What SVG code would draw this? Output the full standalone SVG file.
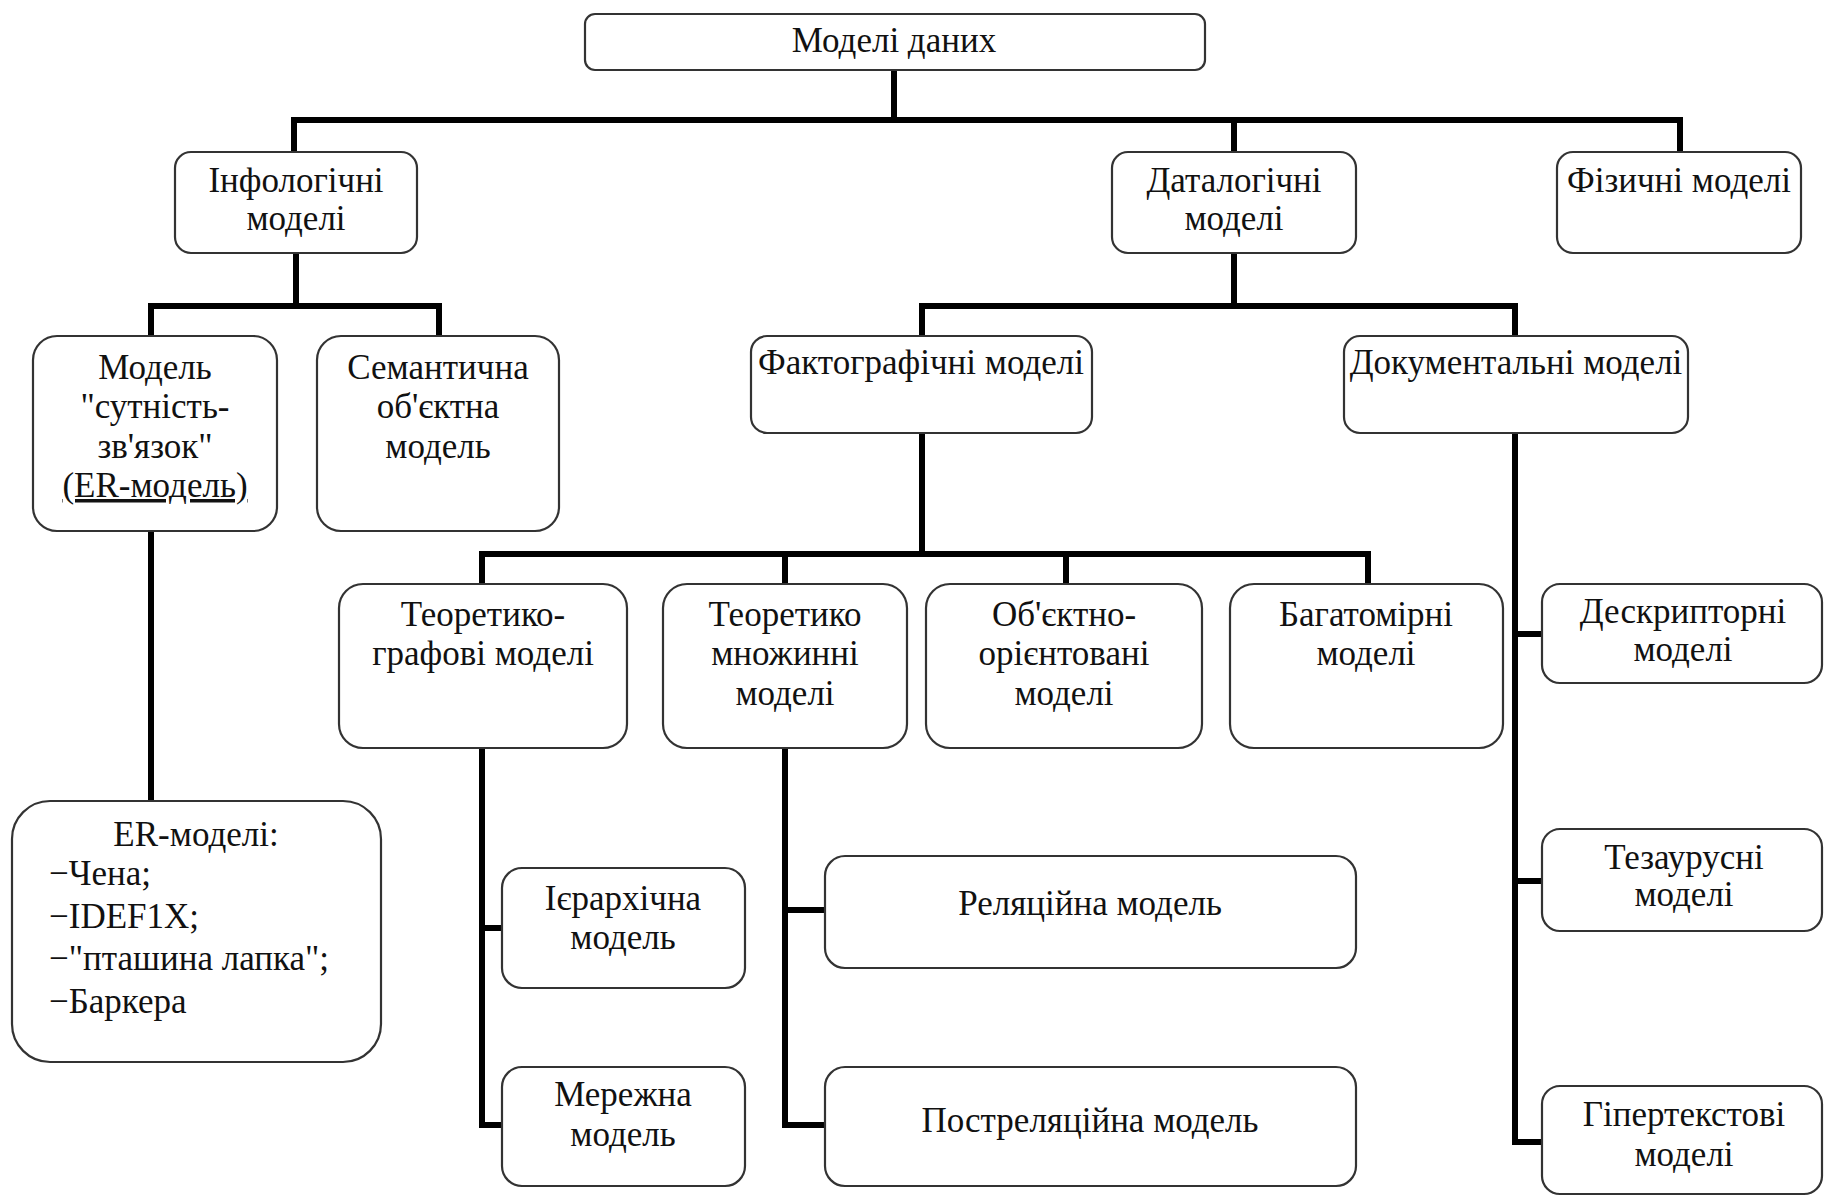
<svg xmlns="http://www.w3.org/2000/svg" width="1825" height="1196" viewBox="0 0 1825 1196">
<style>
.box{fill:#fff;stroke:#333;stroke-width:2.2}
.t{font-family:"Liberation Serif","Times New Roman",serif;font-size:35px;fill:#111;text-anchor:middle}
.l{text-anchor:start}
.conn{stroke:#000;stroke-width:6;fill:none;stroke-linecap:square;stroke-linejoin:miter}
</style>
<rect width="1825" height="1196" fill="#fff"/>
<g id="connectors">
<path class="conn" d="M894,70 V120"/>
<path class="conn" d="M294,152 V120 H1680 V152"/>
<path class="conn" d="M1234,120 V152"/>
<path class="conn" d="M296,253 V306"/>
<path class="conn" d="M151,336 V306 H439 V336"/>
<path class="conn" d="M1234,253 V306"/>
<path class="conn" d="M922,336 V306 H1515 V336"/>
<path class="conn" d="M922,433 V554"/>
<path class="conn" d="M482,584 V554 H1368 V584"/>
<path class="conn" d="M785,554 V584"/>
<path class="conn" d="M1066,554 V584"/>
<path class="conn" d="M151,531 V801"/>
<path class="conn" d="M482,748 V1125 H502"/>
<path class="conn" d="M482,928 H502"/>
<path class="conn" d="M785,748 V1125 H825"/>
<path class="conn" d="M785,910 H825"/>
<path class="conn" d="M1515,433 V1142 H1542"/>
<path class="conn" d="M1515,634 H1542"/>
<path class="conn" d="M1515,881 H1542"/>
</g>
<g id="n-root"><rect class="box" x="585" y="14" width="620" height="56" rx="10"/><text class="t" x="894" y="52">Моделі даних</text></g>
<g id="n-info"><rect class="box" x="175" y="152" width="242" height="101" rx="16"/><text class="t" x="296" y="192">Інфологічні</text><text class="t" x="296" y="230">моделі</text></g>
<g id="n-data"><rect class="box" x="1112" y="152" width="244" height="101" rx="16"/><text class="t" x="1234" y="192">Даталогічні</text><text class="t" x="1234" y="230">моделі</text></g>
<g id="n-phys"><rect class="box" x="1557" y="152" width="244" height="101" rx="16"/><text class="t" x="1679" y="192">Фізичні моделі</text></g>
<g id="n-er"><rect class="box" x="33" y="336" width="244" height="195" rx="24"/><text class="t" x="155" y="379">Модель</text><text class="t" x="155" y="418">"сутність-</text><text class="t" x="155" y="458">зв'язок"</text><text class="t" x="155" y="497" text-decoration="underline">(ER-модель)</text></g>
<g id="n-sem"><rect class="box" x="317" y="336" width="242" height="195" rx="24"/><text class="t" x="438" y="379">Семантична</text><text class="t" x="438" y="418">об'єктна</text><text class="t" x="438" y="458">модель</text></g>
<g id="n-fact"><rect class="box" x="751" y="336" width="341" height="97" rx="16"/><text class="t" x="921" y="374">Фактографічні моделі</text></g>
<g id="n-doc"><rect class="box" x="1344" y="336" width="344" height="97" rx="16"/><text class="t" x="1516" y="374">Документальні моделі</text></g>
<g id="n-tg"><rect class="box" x="339" y="584" width="288" height="164" rx="24"/><text class="t" x="483" y="626">Теоретико-</text><text class="t" x="483" y="665">графові моделі</text></g>
<g id="n-tm"><rect class="box" x="663" y="584" width="244" height="164" rx="24"/><text class="t" x="785" y="626">Теоретико</text><text class="t" x="785" y="665">множинні</text><text class="t" x="785" y="705">моделі</text></g>
<g id="n-oo"><rect class="box" x="926" y="584" width="276" height="164" rx="24"/><text class="t" x="1064" y="626">Об'єктно-</text><text class="t" x="1064" y="665">орієнтовані</text><text class="t" x="1064" y="705">моделі</text></g>
<g id="n-bag"><rect class="box" x="1230" y="584" width="273" height="164" rx="24"/><text class="t" x="1366" y="626">Багатомірні</text><text class="t" x="1366" y="665">моделі</text></g>
<g id="n-erl"><rect class="box" x="12" y="801" width="369" height="261" rx="38"/><text class="t" x="196" y="846">ER-моделі:</text><text class="t l" x="49" y="885">−Чена;</text><text class="t l" x="49" y="928">−IDEF1X;</text><text class="t l" x="49" y="970">−"пташина лапка";</text><text class="t l" x="49" y="1013">−Баркера</text></g>
<g id="n-hier"><rect class="box" x="502" y="868" width="243" height="120" rx="20"/><text class="t" x="623" y="910">Ієрархічна</text><text class="t" x="623" y="949">модель</text></g>
<g id="n-net"><rect class="box" x="502" y="1067" width="243" height="119" rx="20"/><text class="t" x="623" y="1106">Мережна</text><text class="t" x="623" y="1146">модель</text></g>
<g id="n-rel"><rect class="box" x="825" y="856" width="531" height="112" rx="20"/><text class="t" x="1090" y="915">Реляційна модель</text></g>
<g id="n-post"><rect class="box" x="825" y="1067" width="531" height="119" rx="20"/><text class="t" x="1090" y="1132">Постреляційна модель</text></g>
<g id="n-desc"><rect class="box" x="1542" y="584" width="280" height="99" rx="18"/><text class="t" x="1683" y="623">Дескрипторні</text><text class="t" x="1683" y="661">моделі</text></g>
<g id="n-thes"><rect class="box" x="1542" y="829" width="280" height="102" rx="18"/><text class="t" x="1684" y="869">Тезаурусні</text><text class="t" x="1684" y="906">моделі</text></g>
<g id="n-hyp"><rect class="box" x="1542" y="1086" width="280" height="108" rx="18"/><text class="t" x="1684" y="1126">Гіпертекстові</text><text class="t" x="1684" y="1166">моделі</text></g>
</svg>
